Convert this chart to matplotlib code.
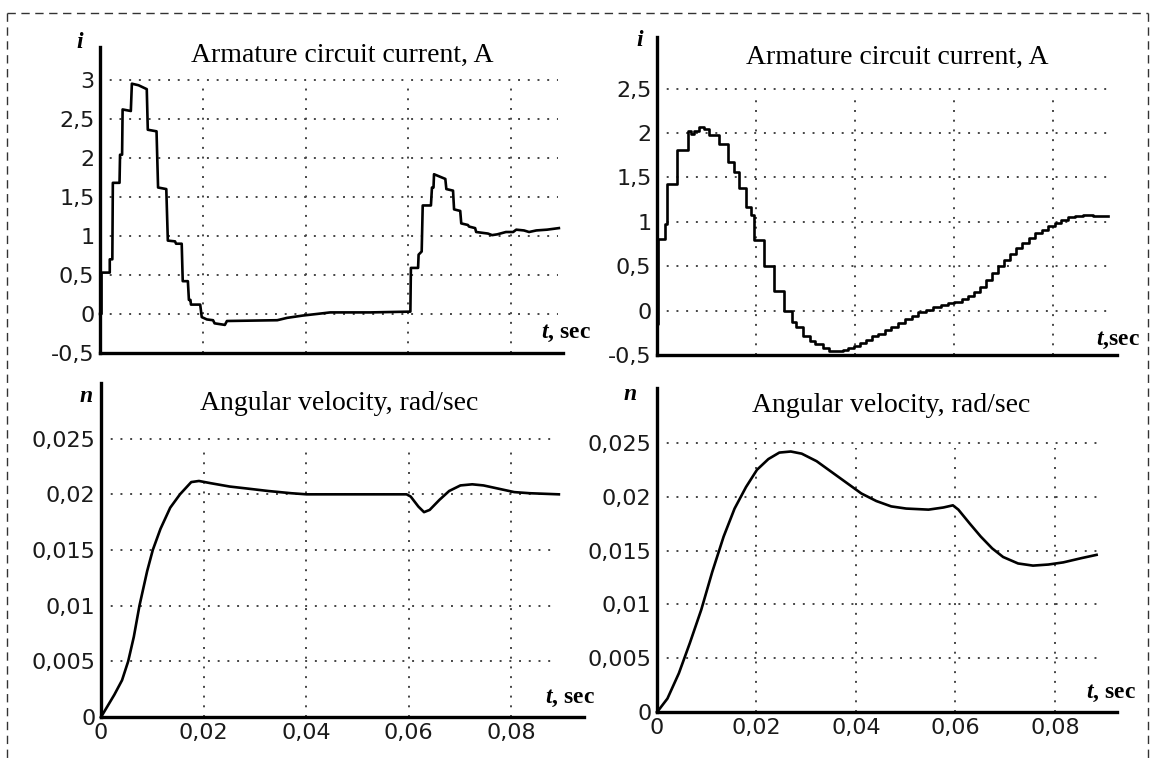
import matplotlib
matplotlib.use('Agg')
import matplotlib.pyplot as plt
from matplotlib.lines import Line2D

plt.rcParams['mathtext.fontset'] = 'custom'
plt.rcParams['mathtext.it'] = 'Liberation Serif:bold:italic'
plt.rcParams['mathtext.rm'] = 'Liberation Serif:bold'

# ---- data ----
# left: armature current (staircase), vertices of the trace
t_cur_a = [0.0000, 0.0003, 0.0003, 0.0019, 0.0019, 0.0024, 0.0025, 0.0038, 0.0039, 0.0043,
           0.0044, 0.0060, 0.0062, 0.0075, 0.0091, 0.0093, 0.0110, 0.0113, 0.0129, 0.0132,
           0.0146, 0.0148, 0.0159, 0.0161, 0.0171, 0.0173, 0.0176, 0.0177, 0.0195, 0.0198,
           0.0208, 0.0220, 0.0223, 0.0243, 0.0247, 0.0345, 0.0364, 0.0395, 0.0422, 0.0448,
           0.0526, 0.0604, 0.0605, 0.0619, 0.0620, 0.0626, 0.0628, 0.0644, 0.0646, 0.0649,
           0.0650, 0.0672, 0.0674, 0.0687, 0.0689, 0.0701, 0.0703, 0.0716, 0.0718, 0.0730,
           0.0732, 0.0755, 0.0763, 0.0773, 0.0790, 0.0804, 0.0810, 0.0825, 0.0835, 0.0849,
           0.0870, 0.0893]
i_cur_a = [0.00, 0.00, 0.53, 0.53, 0.70, 0.70, 1.68, 1.68, 2.04, 2.04,
           2.62, 2.60, 2.95, 2.93, 2.88, 2.36, 2.34, 1.62, 1.60, 0.94,
           0.93, 0.90, 0.90, 0.42, 0.42, 0.18, 0.18, 0.12, 0.12, -0.04,
           -0.07, -0.08, -0.12, -0.14, -0.09, -0.08, -0.05, -0.02, 0.00, 0.02,
           0.02, 0.03, 0.59, 0.59, 0.76, 0.80, 1.39, 1.39, 1.62, 1.62,
           1.79, 1.73, 1.60, 1.58, 1.34, 1.32, 1.16, 1.14, 1.12, 1.10,
           1.05, 1.03, 1.01, 1.02, 1.05, 1.05, 1.08, 1.07, 1.05, 1.07,
           1.08, 1.10]

# right: armature current, step start times and held values
t_cur_b = [0.0000, 0.0002, 0.0016, 0.0021, 0.0040, 0.0062, 0.0068, 0.0075, 0.0085, 0.0095,
           0.0105, 0.0125, 0.0143, 0.0156, 0.0166, 0.0180, 0.0190, 0.0195, 0.0216, 0.0236,
           0.0256, 0.0272, 0.0280, 0.0295, 0.0310, 0.0320, 0.0335, 0.0348, 0.0376, 0.0386,
           0.0398, 0.0410, 0.0422, 0.0435, 0.0447, 0.0460, 0.0473, 0.0486, 0.0500, 0.0514,
           0.0528, 0.0543, 0.0558, 0.0573, 0.0588, 0.0600, 0.0615, 0.0628, 0.0640, 0.0652,
           0.0664, 0.0676, 0.0688, 0.0700, 0.0712, 0.0725, 0.0738, 0.0751, 0.0764, 0.0777,
           0.0790, 0.0803, 0.0816, 0.0830, 0.0845, 0.0860, 0.0880, 0.0900, 0.0911]
i_cur_b = [-0.15, 0.81, 0.97, 1.42, 1.81, 2.02, 1.99, 2.02, 2.07, 2.04,
           1.98, 1.88, 1.67, 1.56, 1.38, 1.17, 1.08, 0.80, 0.50, 0.22,
           0.00, -0.13, -0.19, -0.29, -0.34, -0.38, -0.42, -0.45, -0.44, -0.42,
           -0.40, -0.36, -0.33, -0.29, -0.26, -0.22, -0.19, -0.14, -0.10, -0.06,
           -0.02, 0.01, 0.04, 0.06, 0.08, 0.10, 0.13, 0.16, 0.21, 0.27,
           0.34, 0.42, 0.50, 0.57, 0.64, 0.70, 0.76, 0.82, 0.87, 0.91,
           0.95, 0.99, 1.02, 1.05, 1.07, 1.08, 1.07, 1.06, 1.06]

# left: angular velocity
t_vel_a = [0.0, 0.0004, 0.0026, 0.0041, 0.0053, 0.0064, 0.0075, 0.0090, 0.0101, 0.0116,
           0.0135, 0.0154, 0.0176, 0.0191, 0.0214, 0.0251, 0.0289, 0.0326, 0.0371, 0.0401,
           0.0596, 0.0604, 0.0619, 0.0630, 0.0641, 0.0660, 0.0679, 0.0701, 0.0724, 0.0746,
           0.0776, 0.0806, 0.0836, 0.0893]
n_vel_a = [0.0, 0.0003, 0.0020, 0.0033, 0.0050, 0.0072, 0.0100, 0.0131, 0.0150, 0.0169,
           0.0188, 0.0200, 0.0211, 0.0212, 0.0210, 0.0207, 0.0205, 0.0203, 0.0201, 0.0200,
           0.0200, 0.0198, 0.0189, 0.0184, 0.0186, 0.0195, 0.0203, 0.0208, 0.0209, 0.0208,
           0.0205, 0.0202, 0.0201, 0.0200]

# right: angular velocity
t_vel_b = [0.0, 0.0002, 0.0021, 0.0044, 0.0066, 0.0089, 0.0111, 0.0134, 0.0156, 0.0179,
           0.0201, 0.0224, 0.0246, 0.0269, 0.0291, 0.0321, 0.0351, 0.0381, 0.0411, 0.0441,
           0.0471, 0.0501, 0.0546, 0.0576, 0.0595, 0.0606, 0.0629, 0.0651, 0.0674, 0.0696,
           0.0726, 0.0756, 0.0787, 0.0817, 0.0854, 0.0884]
n_vel_b = [0.0, 0.0001, 0.00125, 0.0036, 0.0064, 0.0095, 0.0130, 0.0163, 0.0189, 0.0209,
           0.0225, 0.0235, 0.0241, 0.0242, 0.0240, 0.0233, 0.0223, 0.0213, 0.0203, 0.0196,
           0.0191, 0.0189, 0.0188, 0.0190, 0.0192, 0.0188, 0.0175, 0.0163, 0.0152, 0.0144,
           0.0138, 0.0136, 0.0137, 0.0139, 0.0143, 0.0146]

t_ticks = [0, 0.02, 0.04, 0.06, 0.08]
t_labels = ['0', '0,02', '0,04', '0,06', '0,08']
cur_ticks_a = [-0.5, 0, 0.5, 1, 1.5, 2, 2.5, 3]
cur_labels_a = ['-0,5', '0', '0,5', '1', '1,5', '2', '2,5', '3']
cur_ticks_b = [-0.5, 0, 0.5, 1, 1.5, 2, 2.5]
cur_labels_b = ['-0,5', '0', '0,5', '1', '1,5', '2', '2,5']
vel_ticks = [0, 0.005, 0.01, 0.015, 0.02, 0.025]
vel_labels = ['0', '0,005', '0,01', '0,015', '0,02', '0,025']

title_cur = 'Armature circuit current, A'
title_vel = 'Angular velocity, rad/sec'

# ---- figure ----
W, H = 1156, 758
fig = plt.figure(figsize=(W / 100, H / 100), dpi=100)


def fx(x):
    return x / W


def fy(y):
    return 1 - y / H


def box(left, right, top, bottom):
    return [left / W, 1 - bottom / H, (right - left) / W, (bottom - top) / H]


def setup(ax, xmax, ylim, yticks, ylabels, xlabels, hgrid_end, vgrid_top):
    ax.set_xlim(0, xmax)
    ax.set_ylim(*ylim)
    for s in ['top', 'right']:
        ax.spines[s].set_visible(False)
    for s in ['left', 'bottom']:
        ax.spines[s].set_linewidth(2.4)
    ax.set_yticks(yticks, ylabels)
    if xlabels:
        ax.set_xticks(t_ticks, xlabels)
    else:
        ax.set_xticks([])
    ax.tick_params(length=0, labelsize=16, pad=4, colors='#1a1a1a')
    grid_kw = dict(color='#444444', lw=1.4, linestyles=[(0, (1, 4))], zorder=1)
    ax.hlines([v for v in yticks if v > ylim[0]], 0, hgrid_end, **grid_kw)
    ax.vlines(t_ticks[1:], ylim[0], vgrid_top, **grid_kw)


line_kw = dict(color='black', lw=1.9, zorder=3, clip_on=False)

ax1 = fig.add_axes(box(100, 563, 47, 353))
setup(ax1, 0.0901, (-0.5, 3.42), cur_ticks_a, cur_labels_a, None, 0.0891, 2.9)
ax1.plot(t_cur_a, i_cur_a, **line_kw)

ax2 = fig.add_axes(box(657, 1117, 37, 355))
setup(ax2, 0.0929, (-0.5, 3.08), cur_ticks_b, cur_labels_b, None, 0.0911, 2.45)
ax2.plot(t_cur_b, i_cur_b, drawstyle='steps-post', **line_kw)

ax3 = fig.add_axes(box(101, 584, 383, 717))
setup(ax3, 0.0942, (0, 0.0300), vel_ticks, vel_labels, t_labels, 0.0878, 0.0243)
ax3.plot(t_vel_a, n_vel_a, **line_kw)

ax4 = fig.add_axes(box(657, 1117, 388, 712))
setup(ax4, 0.0925, (0, 0.0301), vel_ticks, vel_labels, t_labels, 0.0884, 0.0245)
ax4.plot(t_vel_b, n_vel_b, **line_kw)

serif = 'Liberation Serif'
for (x, y), s in [((342, 55), title_cur), ((897, 57), title_cur),
                  ((339, 403), title_vel), ((891, 405), title_vel)]:
    fig.text(fx(x), fy(y), s, ha='center', va='center', family=serif, size=20)

for (x, y), s in [((80, 43), 'i'), ((640, 40), 'i'), ((86, 396), 'n'), ((630, 395), 'n')]:
    fig.text(fx(x), fy(y), s, ha='center', va='center', family=serif,
             size=17, weight='bold', style='italic')

for (x, y), s in [((591, 333), '$t$, sec'), ((1140, 340), '$t$,sec'),
                  ((595, 698), '$t$, sec'), ((1136, 693), '$t$, sec')]:
    fig.text(fx(x), fy(y), s, ha='right', va='center', family=serif,
             size=17, weight='bold')

# dashed frame round the whole picture
frame_kw = dict(transform=fig.transFigure, color='#333333', lw=1.0, ls=(0, (6, 4)))
fig.add_artist(Line2D([fx(7), fx(1148)], [fy(13), fy(13)], **frame_kw))
fig.add_artist(Line2D([fx(7), fx(7)], [fy(13), 0], **frame_kw))
fig.add_artist(Line2D([fx(1148), fx(1148)], [fy(13), 0], **frame_kw))

fig.savefig('out.png', dpi=100)
